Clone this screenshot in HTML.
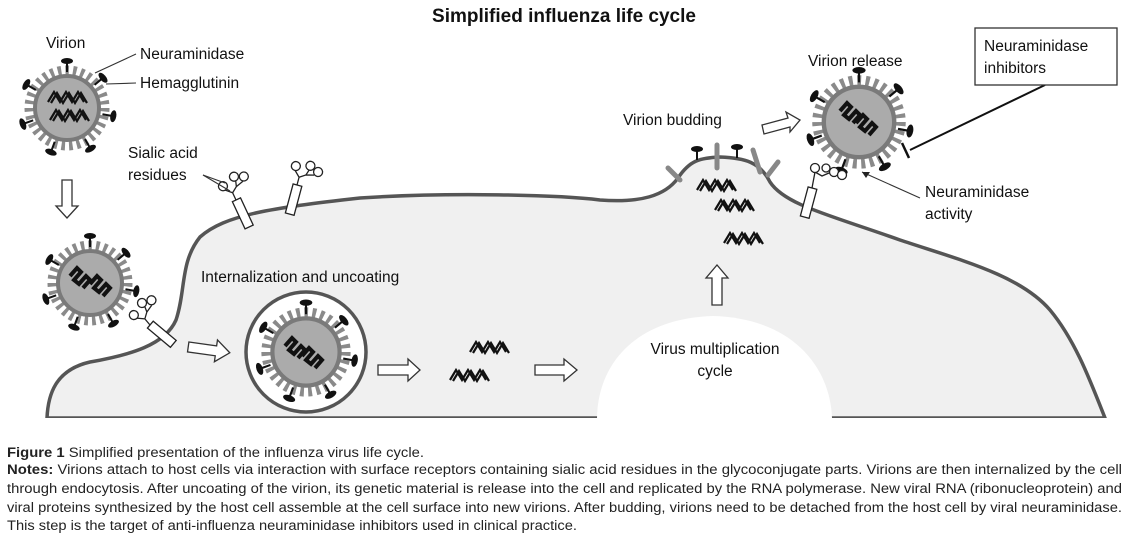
<!DOCTYPE html>
<html><head><meta charset="utf-8"><style>
html,body{margin:0;padding:0;background:#fff;width:1128px;height:549px;overflow:hidden}
svg{display:block}
text{font-family:"Liberation Sans",sans-serif}
</style></head><body>
<svg width="1128" height="549" viewBox="0 0 1128 549" xmlns="http://www.w3.org/2000/svg">
<defs>
<g id="na"><line x1="0" y1="0" x2="0" y2="-10" stroke="#111" stroke-width="2"/><ellipse cx="0" cy="-11" rx="6" ry="3" fill="#111"/></g>
<g id="rna"><path d="M0,10 L6,0 L12,10 L18,0 L24,10 L30,0 L36,10" fill="none" stroke="#111" stroke-width="2.2"/><path d="M3,11 L9,1 L15,11 L21,1 L27,11 L33,1 L39,11" fill="none" stroke="#111" stroke-width="2.2"/></g>
<g id="rna2"><path d="M0,8 L7,0 L11,4 L4,12 L9,16 L16,8 L20,12 L13,20" fill="none" stroke="#111" stroke-width="4" stroke-linejoin="miter"/></g>
<g id="vir">
<circle r="37" fill="none" stroke="#8a8a8a" stroke-width="11" stroke-dasharray="3.5 4"/>
<circle r="32" fill="#ababab" stroke="#7a7a7a" stroke-width="4"/>
<use href="#na" transform="rotate(0) translate(0,-36)"/>
<use href="#na" transform="rotate(50) translate(0,-36)"/>
<use href="#na" transform="rotate(100) translate(0,-36)"/>
<use href="#na" transform="rotate(150) translate(0,-36)"/>
<use href="#na" transform="rotate(200) translate(0,-36)"/>
<use href="#na" transform="rotate(250) translate(0,-36)"/>
<use href="#na" transform="rotate(300) translate(0,-36)"/>
</g>
<g id="sia" fill="#fff" stroke="#222" stroke-width="1.3">
<path d="M0,0 L0,-8 L-6,-14 M0,-8 L6,-12 L8,-18 M6,-12 L14,-14" fill="none"/>
<circle cx="-6" cy="-18" r="4.5"/><circle cx="8" cy="-22" r="4.5"/><circle cx="17" cy="-18" r="4.5"/>
</g>
</defs>

<text x="564" y="22" text-anchor="middle" font-size="19" font-weight="bold" fill="#111">Simplified influenza life cycle</text>

<path d="M47,418 C48,395 55,370 90,362 C130,355 165,345 176,320 C186,290 180,262 200,237 C225,215 270,208 360,198 C450,192 560,195 600,200 C640,203 665,196 678,178 C690,160 700,158 720,157 C745,158 760,162 770,182 C785,205 830,215 900,240 C960,260 1020,275 1050,310 C1075,340 1090,380 1105,418 Z" fill="#f0f0f0" stroke="#555" stroke-width="3.5"/>
<path d="M597,418 C598,360 640,318 713,316 C790,318 830,365 832,418 Z" fill="#fff"/>
<rect x="0" y="418" width="1128" height="10" fill="#fff"/>

<g stroke="#888" stroke-width="5" stroke-linecap="round">
<line x1="668" y1="168" x2="680" y2="180"/>
<line x1="717" y1="145" x2="717" y2="168"/>
<line x1="753" y1="150" x2="760" y2="172"/>
<line x1="768" y1="175" x2="778" y2="162"/>
</g>
<use href="#na" transform="translate(697,160)"/>
<use href="#na" transform="translate(737,158)"/>
<use href="#rna" transform="translate(697,180)"/>
<use href="#rna" transform="translate(715,200)"/>
<use href="#rna" transform="translate(724,233)"/>

<use href="#vir" transform="translate(67,108)"/>
<use href="#rna" transform="translate(48,92)"/>
<use href="#rna" transform="translate(50,110)"/>
<use href="#vir" transform="translate(90,283)"/>
<use href="#rna2" transform="translate(70,268)"/>
<use href="#rna2" transform="translate(90,276)"/>
<circle cx="306" cy="352" r="60" fill="#fff" stroke="#555" stroke-width="3.5"/>
<use href="#vir" transform="translate(306,352) scale(1.05)"/>
<use href="#rna2" transform="translate(285,338)"/>
<use href="#rna2" transform="translate(302,348)"/>
<use href="#vir" transform="translate(859,122) scale(1.1)"/>
<use href="#rna2" transform="translate(840,103)"/>
<use href="#rna2" transform="translate(856,115)"/>

<use href="#rna" transform="translate(470,342)"/>
<use href="#rna" transform="translate(450,370)"/>

<rect x="-4" y="0" width="9" height="30" fill="#fff" stroke="#222" stroke-width="1.3" transform="translate(236,200) rotate(-25)"/>
<use href="#sia" transform="translate(236,200) rotate(-25)"/>
<rect x="-4" y="0" width="9" height="30" fill="#fff" stroke="#222" stroke-width="1.3" transform="translate(297,185) rotate(15)"/>
<use href="#sia" transform="translate(297,185) rotate(15)"/>
<rect x="-4" y="0" width="9" height="30" fill="#fff" stroke="#222" stroke-width="1.3" transform="translate(150,325) rotate(-50)"/>
<use href="#sia" transform="translate(150,325) rotate(-40)"/>
<rect x="-4" y="0" width="9" height="30" fill="#fff" stroke="#222" stroke-width="1.3" transform="translate(812,188) rotate(15)"/>
<g fill="#fff" stroke="#222" stroke-width="1.3"><path d="M812,188 L815,172 L822,176 L836,170" fill="none"/>
<circle cx="815" cy="168" r="4.5"/><circle cx="834" cy="172" r="4.5"/><circle cx="842" cy="175" r="4.5"/><circle cx="826" cy="168" r="4"/></g>

<g fill="#fff" stroke="#333" stroke-width="1.3">
<path d="M62,180 H72 V206 H78 L67,218 L56,206 H62 Z"/>
<path d="M188,345 H216 V339 L230,350 L216,361 V355 H188 Z" transform="rotate(8 210 350)"/>
<path d="M378,365 H408 V359 L420,370 L408,381 V375 H378 Z"/>
<path d="M535,365 H564 V359 L577,370 L564,381 V375 H535 Z"/>
<path d="M712,305 V278 H706 L717,265 L728,278 H722 V305 Z"/>
<path d="M762,125 L788,118 L786,112 L800,120 L790,132 L790,127 L764,134 Z"/>
</g>

<g stroke="#333" stroke-width="1.1" fill="none">
<line x1="136" y1="54" x2="95" y2="73"/>
<line x1="136" y1="83" x2="106" y2="84"/>
<line x1="203" y1="175" x2="225" y2="183"/>
<line x1="203" y1="175" x2="230" y2="191"/>
<line x1="920" y1="198" x2="862" y2="172"/>
</g>
<path d="M862,172 L870,172 L866,178 Z" fill="#222"/>
<line x1="1045" y1="85" x2="910" y2="150" stroke="#111" stroke-width="2"/>
<line x1="902" y1="143" x2="909" y2="158" stroke="#111" stroke-width="2.5"/>
<rect x="975" y="28" width="142" height="57" fill="#fff" stroke="#333" stroke-width="1.3"/>

<g font-size="15.5" fill="#111">
<text x="46" y="48">Virion</text>
<text x="140" y="59">Neuraminidase</text>
<text x="140" y="88">Hemagglutinin</text>
<text x="128" y="158">Sialic acid</text>
<text x="128" y="180">residues</text>
<text x="201" y="282">Internalization and uncoating</text>
<text x="623" y="125">Virion budding</text>
<text x="808" y="66">Virion release</text>
<text x="984" y="51">Neuraminidase</text>
<text x="984" y="73">inhibitors</text>
<text x="925" y="197">Neuraminidase</text>
<text x="925" y="219">activity</text>
<text x="715" y="354" text-anchor="middle">Virus multiplication</text>
<text x="715" y="376" text-anchor="middle">cycle</text>
</g>

<g font-size="13.5" fill="#222">
<text x="7" y="457" textLength="417" lengthAdjust="spacingAndGlyphs"><tspan font-weight="bold">Figure 1</tspan> Simplified presentation of the influenza virus life cycle.</text>
<text x="7" y="474" textLength="1115" lengthAdjust="spacingAndGlyphs"><tspan font-weight="bold">Notes:</tspan> Virions attach to host cells via interaction with surface receptors containing sialic acid residues in the glycoconjugate parts. Virions are then internalized by the cell</text>
<text x="7" y="493" textLength="1115" lengthAdjust="spacingAndGlyphs">through endocytosis. After uncoating of the virion, its genetic material is release into the cell and replicated by the RNA polymerase. New viral RNA (ribonucleoprotein) and</text>
<text x="7" y="512" textLength="1115" lengthAdjust="spacingAndGlyphs">viral proteins synthesized by the host cell assemble at the cell surface into new virions. After budding, virions need to be detached from the host cell by viral neuraminidase.</text>
<text x="7" y="530" textLength="570" lengthAdjust="spacingAndGlyphs">This step is the target of anti-influenza neuraminidase inhibitors used in clinical practice.</text>
</g>
</svg>
</body></html>
